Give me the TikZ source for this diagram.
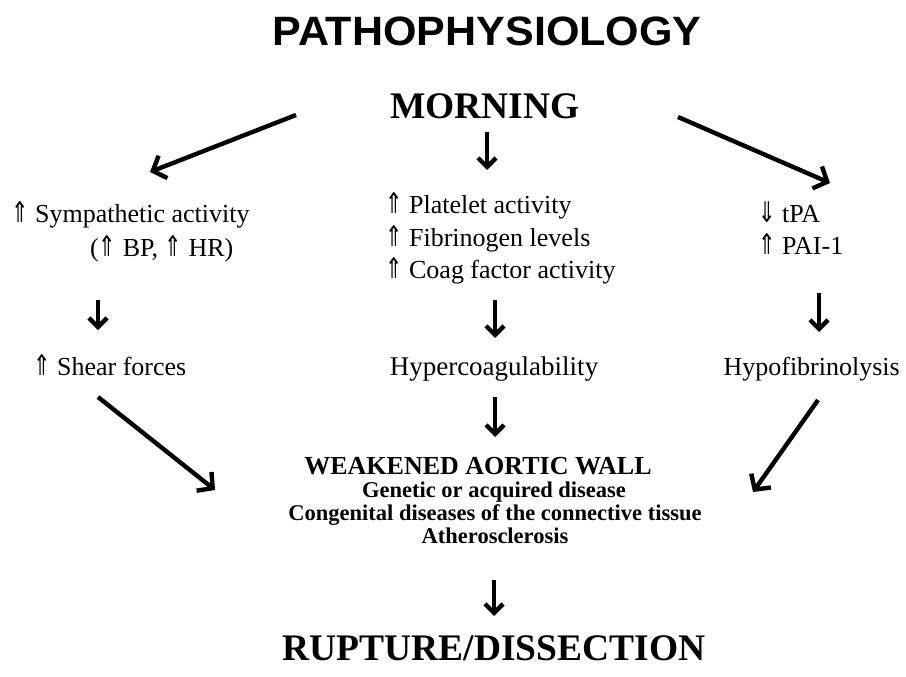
\documentclass[tikz,border=0pt]{standalone}
\usepackage{fontspec}
\setmainfont{Liberation Serif}
\newfontfamily\hv{Liberation Sans}
\newfontfamily\sym{DejaVu Sans}
\usetikzlibrary{arrows.meta}
\newcommand{\up}{\scalebox{0.8}[1.1]{\sym ⇑}}
\newcommand{\dn}{\scalebox{0.8}[1.1]{\sym ⇓}}
\begin{document}
\begin{tikzpicture}[x=1pt,y=-1pt,
  arr/.style={line width=4.4pt,-{Straight Barb[length=9pt,width=18pt]}},
  darr/.style={line width=4.4pt,-{Straight Barb[length=11pt,width=24pt]}},
  txt/.style={inner sep=0pt,anchor=base west,font=\fontsize{26}{30}\selectfont},
  ctxt/.style={inner sep=0pt,anchor=base,font=\fontsize{27}{30}\selectfont},
  big/.style={inner sep=0pt,anchor=base,font=\fontsize{37.5}{40}\selectfont\bfseries},
  sub/.style={inner sep=0pt,anchor=base,font=\fontsize{22.5}{24}\selectfont\bfseries}]
\useasboundingbox[fill=white] (0,0) rectangle (906,677);
% titles
\node[inner sep=0pt,anchor=base,font=\hv\fontsize{41}{44}\selectfont\bfseries,xscale=1.05] (title) at (487,46) {PATHOPHYSIOLOGY};
\node[big] (morning) at (485,118) {MORNING};
% column texts
\node[txt] (symp) at (11,222) {\up{} Sympathetic activity};
\node[txt] (bphr) at (90,256) {(\up{} BP, \up{} HR)};
\node[txt] (plat) at (385,213) {\up{} Platelet activity};
\node[txt] (fib) at (385,246) {\up{} Fibrinogen levels};
\node[txt] (coag) at (385,278) {\up{} Coag factor activity};
\node[txt] (tpa) at (758,222) {\dn{} tPA};
\node[txt] (pai) at (758,254) {\up{} PAI-1};
\node[txt] (shear) at (33,375) {\up{} Shear forces};
\node[ctxt] (hyperc) at (494,375) {Hypercoagulability};
\node[inner sep=0pt,anchor=base east,font=\fontsize{26}{30}\selectfont] (hypof) at (900,375) {Hypofibrinolysis};
% weakened wall
\node[inner sep=0pt,anchor=base,font=\fontsize{26}{30}\selectfont\bfseries] (weak) at (478,474) {WEAKENED AORTIC WALL};
\node[sub] (gen) at (494,497) {Genetic or acquired disease};
\node[sub] (cong) at (495,520) {Congenital diseases of the connective tissue};
\node[sub] (ath) at (495,543) {Atherosclerosis};
\node[big] (rupt) at (494,660) {RUPTURE/DISSECTION};
% arrow endpoints
\coordinate (a1s) at (296,115); \coordinate (a1e) at (150,172);
\coordinate (a2s) at (487,132); \coordinate (a2e) at (487,170);
\coordinate (a3s) at (678,117); \coordinate (a3e) at (830,183);
\coordinate (b1s) at (98,300);  \coordinate (b1e) at (98,330);
\coordinate (b2s) at (495,300); \coordinate (b2e) at (495,338);
\coordinate (b3s) at (819,293); \coordinate (b3e) at (819,332);
\coordinate (c1s) at (98,397);  \coordinate (c1e) at (215,490);
\coordinate (c2s) at (495,397); \coordinate (c2e) at (495,437);
\coordinate (c3s) at (818,400); \coordinate (c3e) at (753,492);
\coordinate (d1s) at (494,580); \coordinate (d1e) at (494,616);
\draw[darr] (a1s) -- (a1e);
\draw[arr] (a2s) -- (a2e);
\draw[darr] (a3s) -- (a3e);
\draw[arr] (b1s) -- (b1e);
\draw[arr] (b2s) -- (b2e);
\draw[arr] (b3s) -- (b3e);
\draw[darr] (c1s) -- (c1e);
\draw[arr] (c2s) -- (c2e);
\draw[darr] (c3s) -- (c3e);
\draw[arr] (d1s) -- (d1e);
\end{tikzpicture}
\end{document}
